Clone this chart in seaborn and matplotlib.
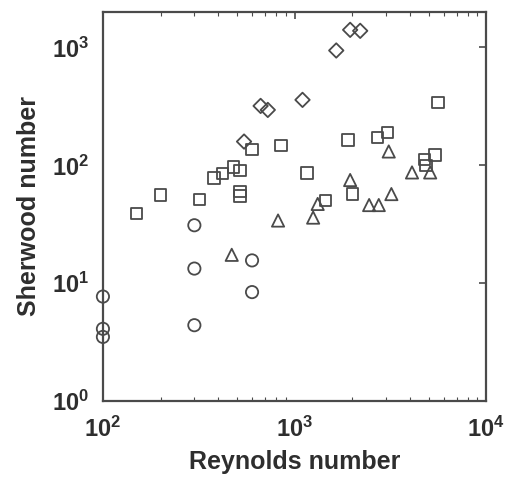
import matplotlib
matplotlib.use("Agg")
import matplotlib.pyplot as plt
import seaborn as sns
import pandas as pd
import numpy as np
from matplotlib.ticker import LogLocator, FixedLocator, NullFormatter, NullLocator

# ---- data ----
circle_re = [100, 100, 100, 300, 300, 300, 600, 600]
circle_sh = [7.7, 4.1, 3.5, 31, 13.3, 4.4, 15.6, 8.4]

square_re = [150, 200, 320, 380, 420, 480, 520, 520, 520, 600, 850, 1160, 1450, 1900,
             2000, 2700, 3050, 4750, 4850, 5400, 5600]
square_sh = [39, 56, 51, 78, 85, 97, 90, 60, 55, 137, 147, 86, 50, 164,
             57, 173, 190, 112, 100, 122, 340]

triangle_re = [470, 820, 1250, 1320, 1950, 2450, 2750, 3200, 3100, 4100, 5100]
triangle_sh = [17.4, 34, 36, 47, 75, 46, 46, 57, 131, 87, 87]

diamond_re = [545, 665, 725, 1100, 1650, 1950, 2200]
diamond_sh = [159, 319, 295, 359, 942, 1410, 1383]

x_ticks = [100, 1000, 10000]
x_ticklabels = [r"$\mathbf{10^{2}}$", r"$\mathbf{10^{3}}$", r"$\mathbf{10^{4}}$"]
y_ticks = [1, 10, 100, 1000]
y_ticklabels = [r"$\mathbf{10^{0}}$", r"$\mathbf{10^{1}}$", r"$\mathbf{10^{2}}$", r"$\mathbf{10^{3}}$"]

groups = [
    ("circle", circle_re, circle_sh, "o", 78),
    ("square", square_re, square_sh, "s", 66),
    ("triangle", triangle_re, triangle_sh, "^", 78),
    ("diamond", diamond_re, diamond_sh, "D", 54),
]

sns.set_style("white")
plt.rcParams["font.family"] = ["Liberation Sans", "DejaVu Sans"]
plt.rcParams["mathtext.fontset"] = "custom"
plt.rcParams["mathtext.rm"] = "Liberation Sans"
plt.rcParams["mathtext.bf"] = "Liberation Sans:bold"

fig = plt.figure(figsize=(5.07, 4.78), dpi=100)
ax = fig.add_axes([0.203, 0.161, 0.756, 0.814])

edge = "#4a4a4a"
for name, xs, ys, mk, sz in groups:
    df = pd.DataFrame({"Re": xs, "Sh": ys})
    sns.scatterplot(data=df, x="Re", y="Sh", marker=mk, s=sz, ax=ax,
                    facecolor="none", edgecolor=edge, linewidth=1.3,
                    clip_on=False, zorder=3)

ax.set_xscale("log")
ax.set_yscale("log")
ax.set_xlim(100, 10000)
ax.set_ylim(1, 2000)

ax.xaxis.set_major_locator(FixedLocator(x_ticks))
ax.set_xticklabels(x_ticklabels)
ax.xaxis.set_minor_locator(LogLocator(base=10, subs=np.arange(2, 10)))
ax.xaxis.set_minor_formatter(NullFormatter())
ax.yaxis.set_major_locator(FixedLocator(y_ticks))
ax.set_yticklabels(y_ticklabels)
ax.yaxis.set_minor_locator(NullLocator())

txt = "#2e2e2e"
ax.tick_params(axis="both", which="major", direction="in", length=5, width=1.2,
               top=True, right=True, labelsize=17, colors=edge, labelcolor=txt)
ax.tick_params(axis="x", which="major", pad=11)
ax.tick_params(axis="y", which="major", pad=10)
ax.tick_params(axis="x", which="minor", direction="in", length=3, width=0.8,
               top=True, bottom=True, colors=edge)
for sp in ax.spines.values():
    sp.set_visible(True)
    sp.set_color(edge)
    sp.set_linewidth(1.6)

ax.set_xlabel("Reynolds number", fontsize=18, fontweight="bold", color=txt, labelpad=6)
ax.set_ylabel("Sherwood number", fontsize=18, fontweight="bold", color=txt, labelpad=8)
ax.set_facecolor("white")
leg = ax.get_legend()
if leg:
    leg.remove()

fig.savefig("out.png", dpi=100, facecolor="white")
